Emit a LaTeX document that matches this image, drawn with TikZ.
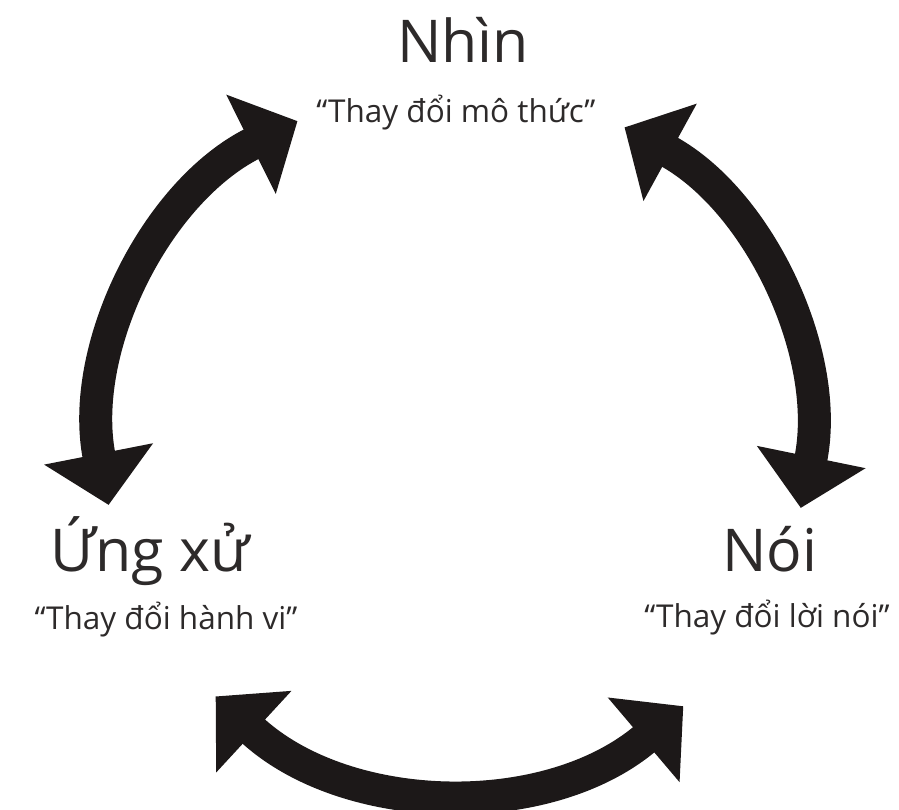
\documentclass[tikz,border=0pt]{standalone}
\usepackage{fontspec}
\setmainfont{Open Sans}
\usetikzlibrary{arrows.meta}
\definecolor{ink}{RGB}{45,42,42}
\definecolor{arrowink}{RGB}{28,24,24}
\begin{document}
\begin{tikzpicture}[x=1pt,y=1pt,
  biglabel/.style={font=\fontsize{59}{62}\selectfont, text=ink, anchor=base, inner sep=0pt},
  sublabel/.style={font=\fontsize{31.5}{36}\selectfont, text=ink, anchor=base, inner sep=0pt},
  cyclearrow/.style={draw=arrowink, line width=33pt, {Triangle[length=52pt,width=108pt]}-{Triangle[length=52pt,width=108pt]}}]
\useasboundingbox (0,0) rectangle (899,809);

% centre and radius of the circle the three arrows follow
\coordinate (C) at (455,372);
\def\rad{353}

% labels
\node[biglabel] (nhin) at (463,746) {Nhìn};
\node[sublabel] (nhinsub) at (456,686) {“Thay đổi mô thức”};
\node[biglabel] (ungxu) at (150,238) {Ứng xử};
\node[sublabel] (ungxusub) at (166,180) {“Thay đổi hành vi”};
\node[biglabel] (noi) at (770,237) {Nói};
\node[sublabel] (noisub) at (767,182) {“Thay đổi lời nói”};

% double-headed arcs between the three labels
\draw[cyclearrow] ([shift={(116.5:\rad)}]C) arc[start angle=116.5, end angle=191.1, radius=\rad];
\draw[cyclearrow] ([shift={(61.3:\rad)}]C) arc[start angle=61.3, end angle=-11.6, radius=\rad];
\draw[cyclearrow] ([shift={(227.3:\rad)}]C) arc[start angle=227.3, end angle=310.3, radius=\rad];
\end{tikzpicture}
\end{document}
